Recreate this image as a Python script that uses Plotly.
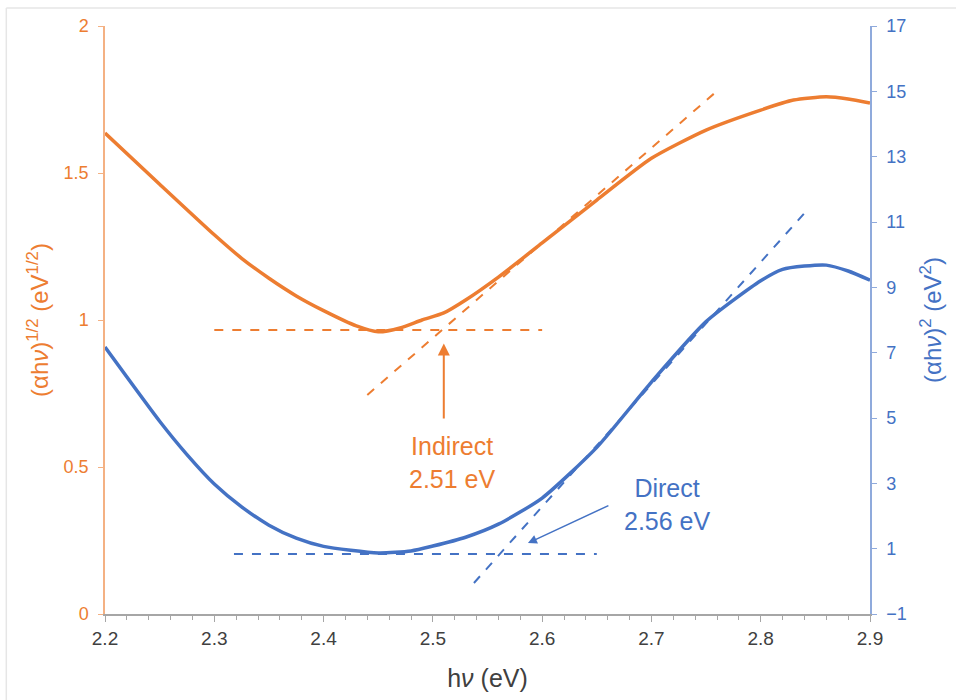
import plotly.graph_objects as go

# Photon energy grid for each measured curve (eV)
hv_indirect = [2.20, 2.25, 2.30, 2.325, 2.35, 2.375, 2.40, 2.43, 2.45, 2.47, 2.49, 2.51, 2.53,
               2.56, 2.60, 2.65, 2.70, 2.75, 2.80, 2.83, 2.86, 2.88, 2.90]
sqrt_ahv = [1.636, 1.462, 1.290, 1.210, 1.142, 1.082, 1.032, 0.980, 0.960, 0.973, 1.000, 1.024,
            1.068, 1.146, 1.262, 1.408, 1.550, 1.646, 1.714, 1.748, 1.759, 1.752, 1.738]

hv_direct = [2.20, 2.25, 2.275, 2.30, 2.325, 2.35, 2.375, 2.40, 2.45, 2.48, 2.50, 2.53,
             2.56, 2.60, 2.65, 2.70, 2.75, 2.80, 2.82, 2.84, 2.86, 2.88, 2.90]
sq_ahv = [7.17, 4.90, 3.88, 2.98, 2.28, 1.72, 1.32, 1.07, 0.87, 0.93, 1.08, 1.35,
          1.75, 2.55, 4.10, 6.10, 7.95, 9.20, 9.55, 9.65, 9.68, 9.50, 9.22]

# Tauc extrapolations: baseline level/extent and tangent endpoints
indirect_base_x = [2.30, 2.60]
indirect_base_y = [0.966, 0.966]
indirect_tan_x = [2.44, 2.761]
indirect_tan_y = [0.745, 1.782]
indirect_gap = 2.51

direct_base_x = [2.318, 2.65]
direct_base_y = [0.84, 0.84]
direct_tan_x = [2.5376, 2.840]
direct_tan_y = [-0.05, 11.27]
direct_gap = 2.56

x_ticks = [2.2, 2.3, 2.4, 2.5, 2.6, 2.7, 2.8, 2.9]
left_ticks = [0, 0.5, 1, 1.5, 2]
right_ticks = [-1, 1, 3, 5, 7, 9, 11, 13, 15, 17]

ORANGE = "#ED7D31"
BLUE = "#4472C4"
FONT = "Liberation Sans, Arial, sans-serif"

fig = go.Figure()

fig.add_trace(go.Scatter(x=hv_indirect, y=sqrt_ahv, mode="lines",
                         line=dict(color=ORANGE, width=3.5, shape="spline", smoothing=0.6),
                         yaxis="y", showlegend=False))
fig.add_trace(go.Scatter(x=indirect_base_x, y=indirect_base_y, mode="lines",
                         line=dict(color=ORANGE, width=2, dash="dash"),
                         yaxis="y", showlegend=False))
fig.add_trace(go.Scatter(x=indirect_tan_x, y=indirect_tan_y, mode="lines",
                         line=dict(color=ORANGE, width=2, dash="dash"),
                         yaxis="y", showlegend=False))

fig.add_trace(go.Scatter(x=hv_direct, y=sq_ahv, mode="lines",
                         line=dict(color=BLUE, width=3.5, shape="spline", smoothing=0.6),
                         yaxis="y2", showlegend=False))
fig.add_trace(go.Scatter(x=direct_base_x, y=direct_base_y, mode="lines",
                         line=dict(color=BLUE, width=2, dash="dash"),
                         yaxis="y2", showlegend=False))
fig.add_trace(go.Scatter(x=direct_tan_x, y=direct_tan_y, mode="lines",
                         line=dict(color=BLUE, width=2, dash="dash"),
                         yaxis="y2", showlegend=False))

# Band-gap arrows and labels
fig.add_annotation(x=indirect_gap, y=0.92, xref="x", yref="y",
                   ax=indirect_gap, ay=0.66, axref="x", ayref="y",
                   showarrow=True, arrowhead=2, arrowsize=1.2, arrowwidth=2,
                   arrowcolor=ORANGE, text="")
fig.add_annotation(x=2.518, y=0.517, xref="x", yref="y", showarrow=False,
                   text=f"Indirect<br>{indirect_gap:.2f} eV",
                   font=dict(family=FONT, size=25, color=ORANGE))

fig.add_annotation(x=2.587, y=1.17, xref="x", yref="y2",
                   ax=2.662, ay=2.34, axref="x", ayref="y2",
                   showarrow=True, arrowhead=2, arrowsize=1.2, arrowwidth=1.5,
                   arrowcolor=BLUE, text="")
fig.add_annotation(x=2.715, y=2.34, xref="x", yref="y2", showarrow=False,
                   text=f"Direct<br>{direct_gap:.2f} eV",
                   font=dict(family=FONT, size=25, color=BLUE))

# Light frame around the chart (top and left edges)
fig.add_shape(type="line", xref="paper", yref="paper", x0=-0.129, x1=1.2, y0=1.0306, y1=1.0306,
              line=dict(color="#E6E6E6", width=1.5))
fig.add_shape(type="line", xref="paper", yref="paper", x0=-0.129, x1=-0.129, y0=-0.3, y1=1.0306,
              line=dict(color="#E6E6E6", width=1.5))

fig.update_layout(
    width=956, height=700,
    margin=dict(l=105, r=86, t=26, b=86),
    paper_bgcolor="white", plot_bgcolor="white",
    font=dict(family=FONT),
    xaxis=dict(range=[2.2, 2.9], tickvals=x_ticks, ticktext=[f"{v:.1f}" for v in x_ticks],
               showgrid=False, zeroline=False, showline=True, linecolor="#A6A6A6", linewidth=1.5,
               ticks="outside", ticklen=6, tickcolor="#A6A6A6",
               minor=dict(dtick=0.02, tick0=2.2, ticks="outside", ticklen=4, tickcolor="#A6A6A6"),
               tickfont=dict(size=19, color="#404040"),
               title=dict(text="h<i>ν</i> (eV)", font=dict(size=25, color="#404040"), standoff=22)),
    yaxis=dict(range=[0, 2], tickvals=left_ticks, ticktext=["0", "0.5", "1", "1.5", "2"],
               showgrid=False, zeroline=False, showline=True, linecolor="#F4B183", linewidth=1.5,
               ticks="outside", ticklen=5, tickcolor="#F4B183", ticklabelstandoff=6,
               tickfont=dict(size=18, color=ORANGE),
               title=dict(text="(αh<i>ν</i>)<sup>1/2</sup> (eV<sup>1/2</sup>)",
                          font=dict(size=24, color=ORANGE), standoff=8)),
    yaxis2=dict(range=[-1, 17], tickvals=right_ticks, overlaying="y", side="right",
                showgrid=False, zeroline=False, showline=True, linecolor="#8FAADC", linewidth=1.5,
                ticks="outside", ticklen=5, tickcolor="#8FAADC", ticklabelstandoff=6,
                tickfont=dict(size=18, color=BLUE),
                title=dict(text="(αh<i>ν</i>)<sup>2</sup> (eV<sup>2</sup>)",
                           font=dict(size=24, color=BLUE), standoff=18)),
)

fig.write_html("out.html")
